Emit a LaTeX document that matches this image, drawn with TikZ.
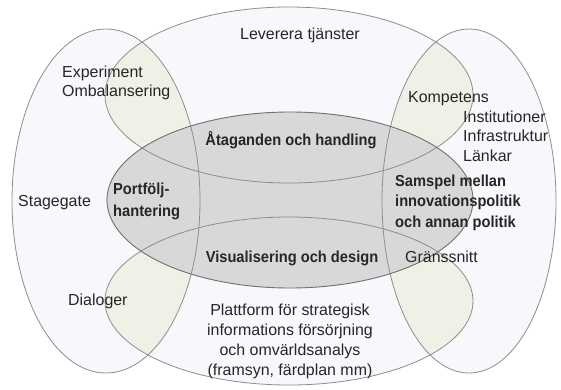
\documentclass[tikz,border=0pt]{standalone}
\usepackage{fontspec}
\setmainfont{Liberation Sans}
\newfontfamily\condbold[FakeStretch=0.92]{Liberation Sans Bold}
\definecolor{outerfill}{HTML}{F7F7FC}
\definecolor{lensfill}{HTML}{EEF2E6}
\definecolor{corefill}{HTML}{D8D8D8}
\definecolor{rimline}{HTML}{8E8E8E}
\definecolor{corerim}{HTML}{707070}
\begin{document}
\begin{tikzpicture}[x=1bp,y=-1bp,
  plain/.style={inner sep=0pt, font={\fontsize{16}{19.5}\selectfont}, text=black!85},
  heavy/.style={inner sep=0pt, font={\condbold\fontsize{16}{20.5}\selectfont}, text=black!85},
  rim/.style={draw=rimline, line width=0.8bp},
]
\useasboundingbox (0,0) rectangle (561,389);
\fill[white] (0,0) rectangle (561,389);

% the four outer areas
\def\leftarea{(106,201) ellipse [x radius=94, y radius=172]}
\def\rightarea{(469,201) ellipse [x radius=87, y radius=172]}
\def\toparea{(289,95) ellipse [x radius=184, y radius=88]}
\def\bottomarea{(289,301) ellipse [x radius=184, y radius=84]}
\def\corearea{(290,200) ellipse [x radius=183, y radius=88]}

\fill[outerfill] \leftarea;
\fill[outerfill] \rightarea;
\fill[outerfill] \toparea;
\fill[outerfill] \bottomarea;

% overlaps of the side areas with the top and bottom areas
\begin{scope}
  \clip \leftarea;
  \fill[lensfill] \toparea;
  \fill[lensfill] \bottomarea;
\end{scope}
\begin{scope}
  \clip \rightarea;
  \fill[lensfill] \toparea;
  \fill[lensfill] \bottomarea;
\end{scope}

% central area
\fill[corefill] \corearea;

% outlines
\path[rim] \leftarea;
\path[rim] \rightarea;
\path[rim] \toparea;
\path[rim] \bottomarea;
\draw[draw=corerim, line width=0.9bp] \corearea;

% labels (multi-line blocks are placed by the baseline of their last line)
\node[plain, anchor=base] (leverera) at (300,39) {Leverera tjänster};
\node[plain, anchor=base west, align=left] (experiment) at (62,96.5) {Experiment\\Ombalansering};
\node[plain, anchor=base west] (kompetens) at (408,102) {Kompetens};
\node[plain, anchor=base west, align=left] (institutioner) at (463,161) {Institutioner\\Infrastruktur\\Länkar};
\node[heavy, anchor=base] (ataganden) at (291,145) {Åtaganden och handling};
\node[heavy, font={\condbold\fontsize{16}{22}\selectfont}, anchor=base west, align=left] (portfolj) at (113,216) {Portfölj-\\hantering};
\node[plain, anchor=base west] (stagegate) at (18,206) {Stagegate};
\node[heavy, anchor=base west, align=left] (samspel) at (395,227) {Samspel mellan\\innovationspolitik\\och annan politik};
\node[heavy, anchor=base] (visualisering) at (292,262) {Visualisering och design};
\node[plain, anchor=base west] (granssnitt) at (405,262) {Gränssnitt};
\node[plain, anchor=base west] (dialoger) at (68,305) {Dialoger};
\node[plain, font={\fontsize{16}{20}\selectfont}, anchor=base, align=center] (plattform) at (290,375) {Plattform för strategisk\\informations försörjning\\och omvärldsanalys\\(framsyn, färdplan mm)};
\end{tikzpicture}
\end{document}
